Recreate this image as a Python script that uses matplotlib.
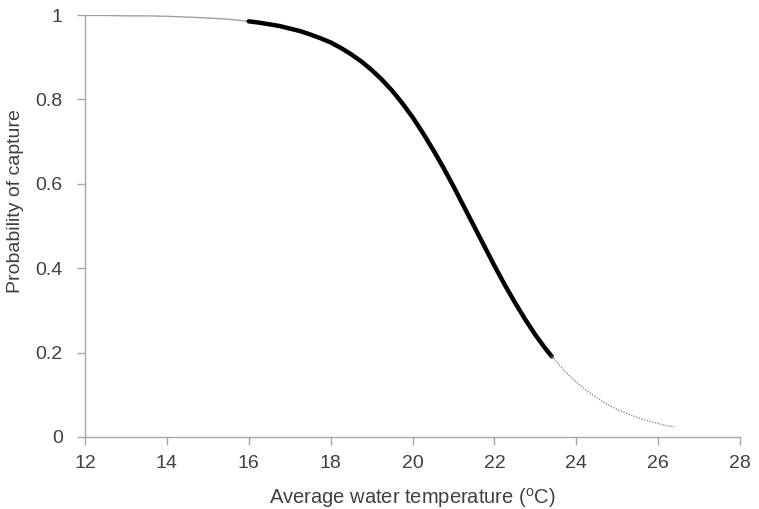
import matplotlib
matplotlib.use("Agg")
import matplotlib.pyplot as plt

plt.rcParams['font.family'] = ['Liberation Sans', 'DejaVu Sans']
plt.rcParams['mathtext.fontset'] = 'custom'
plt.rcParams['mathtext.rm'] = 'Liberation Sans'

# values
temp_low = [12.0, 12.5, 13.0, 13.5, 14.0, 14.5, 15.0, 15.5, 16.0]
prob_low = [0.999, 0.999, 0.998, 0.998, 0.997, 0.995, 0.993, 0.990, 0.985]

temp_mid = [16.0, 16.25, 16.5, 16.75, 17.0, 17.25, 17.5, 17.75, 18.0, 18.25,
            18.5, 18.75, 19.0, 19.25, 19.5, 19.75, 20.0, 20.25, 20.5, 20.75,
            21.0, 21.25, 21.5, 21.75, 22.0, 22.25, 22.5, 22.75, 23.0, 23.25, 23.4]
prob_mid = [0.985, 0.982, 0.978, 0.974, 0.968, 0.962, 0.954, 0.945, 0.935, 0.922,
            0.907, 0.890, 0.870, 0.847, 0.821, 0.791, 0.758, 0.721, 0.681, 0.639,
            0.594, 0.547, 0.500, 0.453, 0.406, 0.361, 0.319, 0.279, 0.242, 0.209, 0.191]

temp_high = [23.4, 23.5, 23.75, 24.0, 24.25, 24.5, 24.75, 25.0, 25.25, 25.5,
             25.75, 26.0, 26.25, 26.4]
prob_high = [0.191, 0.180, 0.153, 0.130, 0.110, 0.093, 0.078, 0.065, 0.055, 0.046,
             0.038, 0.032, 0.026, 0.024]

xticks = [12, 14, 16, 18, 20, 22, 24, 26, 28]
yticks = [0, 0.2, 0.4, 0.6, 0.8, 1]
ylabels = ['0', '0.2', '0.4', '0.6', '0.8', '1']

txt = '#404040'
axc = '#a6a6a6'

fig = plt.figure(figsize=(7.59, 5.09), dpi=100)
ax = fig.add_axes([0.112, 0.1415, 0.863, 0.829])

ax.plot(temp_low, prob_low, color='#a0a0a0', lw=1.0)
ax.plot(temp_mid, prob_mid, color='black', lw=3.2, solid_capstyle='round')
ax.plot(temp_high, prob_high, color='#909090', lw=1.0, ls=(0, (1, 1)))

ax.set_xlim(12, 28)
ax.set_ylim(0, 1)
ax.set_xticks(xticks)
ax.set_yticks(yticks)
ax.set_yticklabels(ylabels)

for s in ['top', 'right']:
    ax.spines[s].set_visible(False)
for s in ['left', 'bottom']:
    ax.spines[s].set_color(axc)
    ax.spines[s].set_linewidth(1.0)
ax.tick_params(axis='both', colors=axc, labelcolor=txt, labelsize=14,
               length=6, width=1.0, direction='out')
ax.tick_params(axis='x', pad=7)
ax.tick_params(axis='y', pad=10)

ax.set_xlabel('Average water temperature ($^{\\rm o}$C)', fontsize=14.5, color=txt)
ax.set_ylabel('Probability of capture', fontsize=14, color=txt)
ax.xaxis.set_label_coords(0.5, -0.115)
ax.yaxis.set_label_coords(-0.093, 0.559)

fig.savefig('out.png', dpi=100)
